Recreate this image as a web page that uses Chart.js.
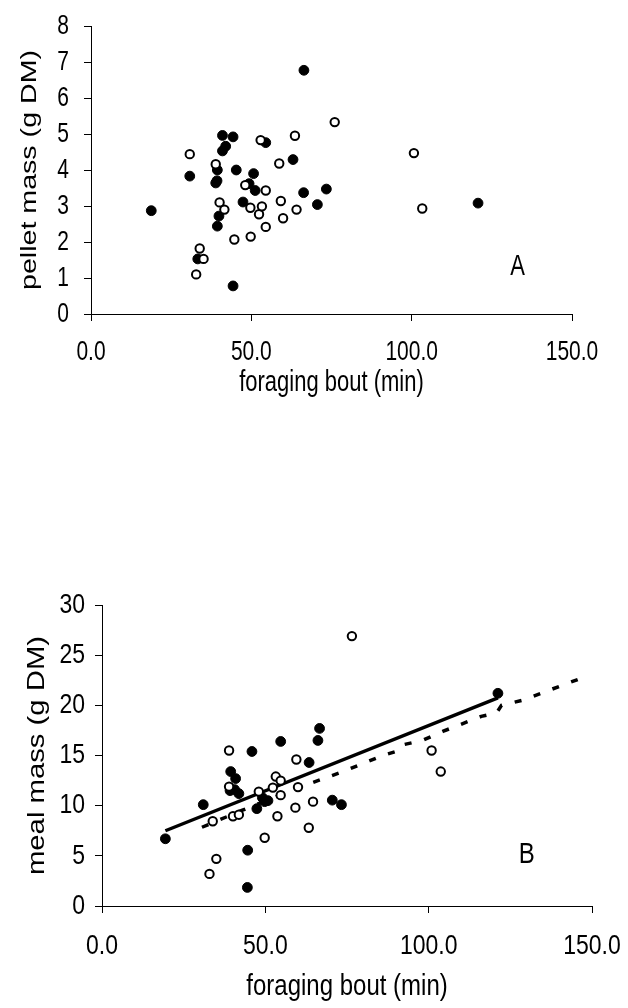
<!DOCTYPE html>
<html><head><meta charset="utf-8">
<script src="https://cdn.jsdelivr.net/npm/chart.js@4.4.0/dist/chart.umd.min.js"></script>
<style>
html,body{margin:0;padding:0;background:#fff;width:628px;height:1008px;overflow:hidden}
#wa{position:absolute;left:0;top:0;width:628px;height:420px}
#wb{position:absolute;left:0;top:560px;width:628px;height:448px}
canvas{display:block}
</style></head><body>
<div id="wa"><canvas id="ca" width="628" height="420"></canvas></div>
<div id="wb"><canvas id="cb" width="628" height="448"></canvas></div>
<script>
// ---- tick labels ----
const boutTicks = [0, 50, 100, 150];
const pelletTicks = [0, 1, 2, 3, 4, 5, 6, 7, 8];
const mealTicks = [0, 5, 10, 15, 20, 25, 30];

// ---- Panel A: pellet mass vs foraging bout ----
const filledBoutA   = [18.8, 30.8, 33.3, 38.9, 39.3, 39.4, 39.4, 39.9, 41.0, 41.0, 42.0, 44.3, 44.3, 45.3, 47.4, 49.3, 50.7, 51.2, 54.5, 63.0, 66.4, 66.3, 70.6, 73.4, 120.7];
const filledPelletA = [2.87, 3.83, 1.53, 3.64, 3.70, 4.00, 2.44, 2.72, 4.96, 4.53, 4.66, 4.92, 0.78, 4.00, 3.11, 3.62, 3.90, 3.43, 4.76, 4.29, 6.77, 3.37, 3.04, 3.47, 3.08];
const openBoutA     = [30.8, 32.8, 33.9, 35.1, 38.9, 40.1, 41.6, 44.7, 48.1, 49.7, 49.8, 52.4, 52.9, 53.3, 54.5, 54.5, 58.7, 59.2, 59.9, 63.6, 64.1, 76.0, 100.7, 103.3];
const openPelletA   = [4.44, 1.10, 1.82, 1.53, 4.16, 3.10, 2.90, 2.07, 3.58, 2.95, 2.15, 2.77, 4.83, 2.99, 3.43, 2.42, 4.18, 3.14, 2.66, 4.95, 2.90, 5.33, 4.47, 2.93];

// ---- Panel B: meal mass vs foraging bout ----
const filledBoutB   = [19.4, 31.0, 39.4, 40.9, 39.2, 40.6, 41.9, 44.6, 44.5, 45.9, 47.4, 49.1, 50.8, 49.8, 54.7, 63.4, 66.1, 66.6, 70.5, 73.3, 121.2];
const filledMealB   = [6.7, 10.1, 13.4, 12.7, 11.5, 11.6, 11.2, 5.56, 1.85, 15.4, 9.7, 10.8, 10.5, 10.4, 16.4, 14.3, 16.5, 17.7, 10.55, 10.1, 21.2];
const openBoutB     = [32.9, 33.9, 35.0, 38.9, 38.9, 40.1, 41.9, 48.0, 49.8, 52.3, 53.2, 53.7, 54.7, 54.7, 59.2, 60.0, 59.5, 63.3, 64.6, 76.5, 100.9, 103.7];
const openMealB     = [3.2, 8.45, 4.7, 15.5, 11.9, 8.95, 9.1, 11.4, 6.8, 11.8, 12.9, 8.95, 12.5, 11.05, 9.8, 11.85, 14.6, 7.8, 10.4, 26.9, 15.5, 13.4];

// regression lines
const solidFitBout = [19.4, 121.2];
const solidFitMeal = [7.5, 20.75];
const dashFitBout  = [30.6, 43.0, 61.5, 73.8, 86.0, 91.0, 92.6, 98.1, 104.3, 116.1, 120.8, 122.3, 128.7, 140.9, 147.5];
const dashFitMeal  = [7.85, 9.55, 11.95, 13.4, 15.0, 15.5, 16.1, 16.5, 17.4, 18.9, 19.25, 20.0, 20.5, 22.0, 22.8];

const FONT = "'Liberation Sans', Arial, sans-serif";
const pts = (xs, ys) => xs.map((x, i) => ({x, y: ys[i]}));

// tall lettering like the original figure: text is stretched along the page's vertical direction
const narrowText = {
  id: 'narrowText',
  beforeDraw(chart, args, o) {
    const ctx = chart.ctx;
    const orig = CanvasRenderingContext2D.prototype.fillText;
    ctx.fillText = function (t, x, y) {
      const m = this.getTransform();
      const rotated = Math.abs(m.b) > 1e-6;
      this.save();
      this.translate(x, y);
      if (rotated) this.scale(o.s, 1); else this.scale(1, o.s);
      orig.call(this, t, 0, 0);
      this.restore();
    };
  },
  afterDraw(chart) { delete chart.ctx.fillText; }
};

const panelLabel = {
  id: 'panelLabel',
  afterDatasetsDraw(chart, args, o) {
    const {ctx, scales} = chart;
    ctx.save();
    ctx.fillStyle = '#000';
    ctx.font = o.size + 'px ' + FONT;
    ctx.textAlign = 'center';
    ctx.textBaseline = 'middle';
    ctx.fillText(o.text, scales.x.getPixelForValue(o.x), scales.y.getPixelForValue(o.y));
    ctx.restore();
  }
};

function makeChart(id, cfg) {
  const filled = {label: 'filled', data: pts(cfg.fx, cfg.fy), pointRadius: 4.9, pointBackgroundColor: '#000', pointBorderColor: '#000', pointBorderWidth: 1, showLine: false, order: 1};
  const open = {label: 'open', data: pts(cfg.ox, cfg.oy), pointRadius: 4.2, pointBackgroundColor: '#fff', pointBorderColor: '#000', pointBorderWidth: 2, showLine: false, order: 0};
  const datasets = [filled, open];
  (cfg.lines || []).forEach(l => datasets.push({label: l.label, data: pts(l.x, l.y), showLine: true, pointRadius: 0, borderColor: '#000', borderWidth: l.w, borderDash: l.dash || [], borderCapStyle: 'butt', tension: 0, order: 2}));
  const tickFont = {family: FONT, size: cfg.fs};
  return new Chart(document.getElementById(id), {
    type: 'scatter',
    data: {datasets},
    options: {
      responsive: false, animation: false, devicePixelRatio: 1,
      layout: {padding: cfg.pad},
      plugins: {legend: {display: false}, tooltip: {enabled: false}, panelLabel: cfg.label, narrowText: {s: cfg.stretch}},
      scales: {
        x: {
          type: 'linear', min: 0, max: 150,
          afterBuildTicks: s => { s.ticks = boutTicks.map(v => ({value: v})); },
          afterFit: s => { s.height = cfg.xh; s.paddingLeft = 0; s.paddingRight = 0; },
          ticks: {color: '#000', font: tickFont, padding: cfg.xpad, maxRotation: 0, callback: v => Number(v).toFixed(1)},
          grid: {display: true, drawOnChartArea: false, drawTicks: true, tickLength: 7, color: '#000', lineWidth: 1},
          border: {display: true, color: '#000', width: 1},
          title: {display: true, text: 'foraging bout (min)', color: '#000', font: {family: FONT, size: cfg.tfs}, padding: {top: 0, bottom: cfg.xtp}}
        },
        y: {
          type: 'linear', min: cfg.ymin, max: cfg.ymax,
          afterBuildTicks: s => { s.ticks = cfg.yt.map(v => ({value: v})); },
          afterFit: s => { s.width = cfg.yw; s.paddingTop = 0; s.paddingBottom = 0; },
          ticks: {color: '#000', font: tickFont, padding: cfg.ypad},
          grid: {display: true, drawOnChartArea: false, drawTicks: true, tickLength: 7, color: '#000', lineWidth: 1},
          border: {display: true, color: '#000', width: 1},
          title: {display: true, text: cfg.ytitle, color: '#000', font: {family: FONT, size: cfg.tfs}, padding: {top: cfg.ytp, bottom: 0}}
        }
      }
    },
    plugins: [narrowText, panelLabel]
  });
}

makeChart('ca', {
  fx: filledBoutA, fy: filledPelletA, ox: openBoutA, oy: openPelletA,
  ymin: 0, ymax: 8, yt: pelletTicks, ytitle: 'pellet mass (g DM)',
  pad: {left: 0, right: 56, top: 26, bottom: 0}, xh: 106, yw: 91,
  fs: 21, tfs: 22, xtp: 23.8, ytp: 16.8, xpad: 19, ypad: 15, stretch: 1.3,
  label: {text: 'A', x: 133, y: 1.3, size: 22}
});

makeChart('cb', {
  fx: filledBoutB, fy: filledMealB, ox: openBoutB, oy: openMealB,
  ymin: 0, ymax: 30, yt: mealTicks, ytitle: 'meal mass (g DM)',
  pad: {left: 0, right: 36, top: 45, bottom: 0}, xh: 102, yw: 102,
  fs: 23, tfs: 24, xtp: 6.6, ytp: 22.6, xpad: 19, ypad: 10, stretch: 1.22,
  lines: [
    {label: 'fit solid', x: solidFitBout, y: solidFitMeal, w: 3.5},
    {label: 'fit dashed', x: dashFitBout, y: dashFitMeal, w: 3.5, dash: [7, 13]}
  ],
  label: {text: 'B', x: 130, y: 5.1, size: 24}
});
</script>
</body></html>
